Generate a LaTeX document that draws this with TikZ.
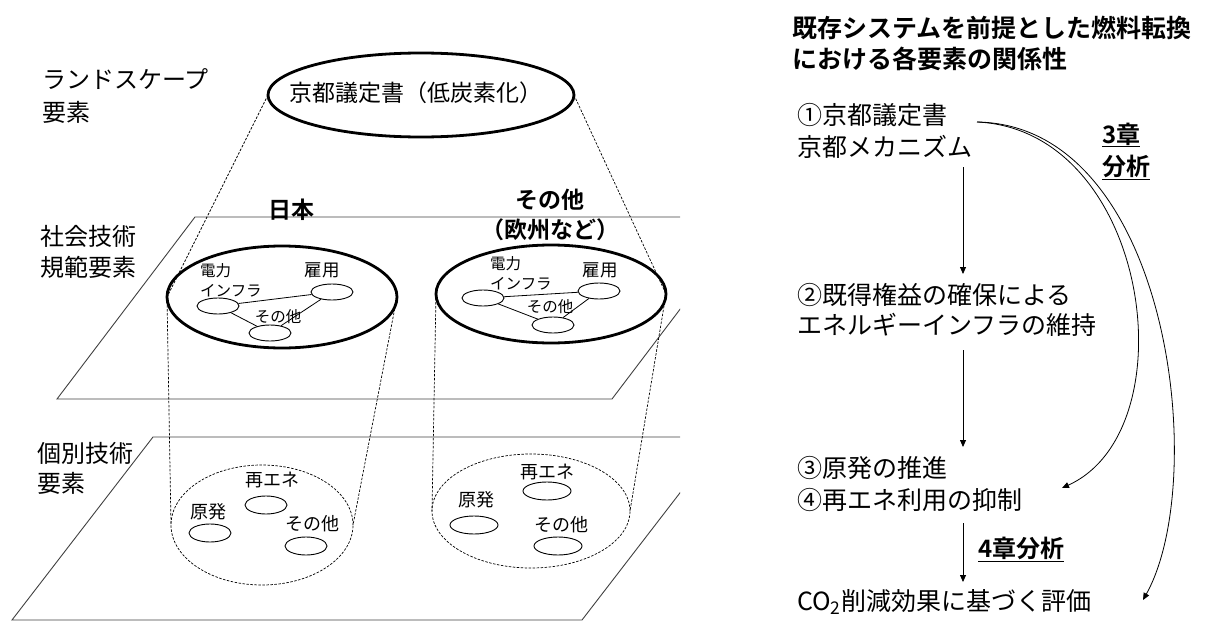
\documentclass[tikz,border=0pt]{standalone}
\usepackage{fontspec}
\setmainfont{Noto Sans CJK JP}[BoldFont={Noto Sans CJK JP Bold}]
\usetikzlibrary{shapes.geometric,arrows.meta}
\newcommand{\fsz}[2]{\fontsize{#1}{#2}\selectfont}
\begin{document}
\begin{tikzpicture}[x=1pt,y=-1pt,
  plane/.style={draw=black!75,line width=0.9pt},
  bigell/.style={ellipse,draw,line width=2.8pt,inner sep=0pt,outer sep=0pt},
  smallell/.style={ellipse,draw,line width=0.9pt,inner sep=0pt,minimum width=42pt,minimum height=16pt},
  smallellb/.style={ellipse,draw,line width=0.9pt,inner sep=0pt,minimum width=48pt,minimum height=18pt},
  dcirc/.style={ellipse,draw,dash pattern=on 2.5pt off 1.5pt,line width=0.7pt,inner sep=0pt,outer sep=0pt},
  dline/.style={dash pattern=on 2.5pt off 1.5pt,line width=0.7pt},
  lbl/.style={inner sep=0pt,align=left,anchor=west},
  txt/.style={inner sep=0pt},
  link/.style={line width=0.8pt},
  arr/.style={-{Triangle[length=7pt,width=6pt]},line width=0.8pt},
]
\useasboundingbox (0,0) rectangle (1208,621);

% planes (clipped at the right, as in the reference)
\begin{scope}
  \clip (0,0) rectangle (680,621);
  \draw[plane] (195,217) -- (750,217) -- (612,399) -- (57,399) -- cycle;
  \draw[plane] (153,437) -- (723,437) -- (582,620) -- (12,620) -- cycle;
\end{scope}

% layer labels
\node[lbl,font=\fsz{24}{33}] (lland) at (42,96) {ランドスケープ\\要素};
\node[lbl,font=\fsz{24}{31}] (lsoc) at (40,252) {社会技術\\規範要素};
\node[lbl,font=\fsz{24}{30}] (lind) at (37,468) {個別技術\\要素};

% landscape ellipse
\node[bigell,minimum width=306pt,minimum height=84pt] (top) at (421,95) {};
\node[txt,font=\fsz{23}{28}] (toptxt) at (416,93) {京都議定書（低炭素化）};

% country labels
\node[txt,font=\bfseries\fsz{23}{28}] (jptxt) at (291,210) {日本};
\node[txt,align=center,font=\bfseries\fsz{23}{30}] (ottxt) at (550,215) {その他\\（欧州など）};

% socio-technical ellipses
\node[bigell,minimum width=230pt,minimum height=102pt] (jp) at (282,297) {};
\node[bigell,minimum width=230pt,minimum height=98pt] (ot) at (551,294) {};

% lower dashed regions
\node[dcirc,minimum width=182pt,minimum height=120pt] (jl) at (262,525) {};
\node[dcirc,minimum width=198pt,minimum height=114pt] (ol) at (531,511) {};

% dashed projections
\draw[dline] (top.west) -- (jp.west);
\draw[dline] (top.east) -- (ot.east);
\draw[dline] (jp.west) -- (jl.west);
\draw[dline] (jp.east) -- (jl.east);
\draw[dline] (ot.west) -- (ol.west);
\draw[dline] (ot.east) -- (ol.east);

% Japan socio-technical inner
\node[smallell] (jpe) at (218,306) {};
\node[smallell] (jpk) at (332,292) {};
\node[smallell] (jpo) at (270,333) {};
\node[lbl,font=\fsz{15.5}{20}] (jpel) at (200,280) {電力\\インフラ};
\node[txt,font=\fsz{17.5}{20}] (jpkl) at (322,270) {雇用};
\node[txt,font=\fsz{15.5}{20}] (jpol) at (278,317) {その他};
\draw[link] (jpe) -- (jpk);
\draw[link] (jpe) -- (jpo);
\draw[link] (jpk) -- (jpo);

% Other socio-technical inner
\node[smallell] (oe) at (483,298) {};
\node[smallell] (ok) at (599,291) {};
\node[smallell] (oo) at (553,325) {};
\node[lbl,font=\fsz{15.5}{20}] (oel) at (490,273) {電力\\インフラ};
\node[txt,font=\fsz{17.5}{20}] (okl) at (600,270) {雇用};
\node[txt,font=\fsz{15.5}{20}] (ool) at (550,307) {その他};
\draw[link] (oe) -- (ok);
\draw[link] (oe) -- (oo);
\draw[link] (ok) -- (oo);

% Japan individual technologies
\node[smallell,minimum height=18pt] (jg) at (210,533) {};
\node[smallell,minimum height=18pt] (jr) at (266,505) {};
\node[smallell,minimum height=18pt] (jo2) at (306,546) {};
\node[txt,font=\fsz{18}{22}] (jgl) at (208,512) {原発};
\node[txt,font=\fsz{18}{22}] (jrl) at (272,480) {再エネ};
\node[txt,font=\fsz{18}{22}] (jo2l) at (312,524) {その他};

% Other individual technologies
\node[smallellb] (og) at (474,525) {};
\node[smallellb] (orr) at (547,491) {};
\node[smallellb] (oo2) at (558,546) {};
\node[txt,font=\fsz{18}{22}] (ogl) at (476,500) {原発};
\node[txt,font=\fsz{18}{22}] (orl) at (547,472) {再エネ};
\node[txt,font=\fsz{18}{22}] (oo2l) at (561,525) {その他};

% right side
\node[lbl,font=\bfseries\fsz{25}{31}] (title) at (792,43) {既存システムを前提とした燃料転換\\における各要素の関係性};
\node[lbl,font=\fsz{25}{32}] (n1) at (797,131) {①京都議定書\\京都メカニズム};
\node[lbl,font=\fsz{25}{30}] (n2) at (797,310) {②既得権益の確保による\\エネルギーインフラの維持};
\node[lbl,font=\fsz{25}{32}] (n3) at (797,484) {③原発の推進\\④再エネ利用の抑制};
\node[lbl,font=\fsz{25}{30}] (n4) at (797,602) {CO\textsubscript{2}削減効果に基づく評価};

\coordinate (a1s) at (963,167);
\coordinate (a1e) at (963,274);
\coordinate (a2s) at (963,350);
\coordinate (a2e) at (963,447);
\coordinate (a3s) at (963,523);
\coordinate (a3e) at (963,582);
\draw[arr] (a1s) -- (a1e);
\draw[arr] (a2s) -- (a2e);
\draw[arr] (a3s) -- (a3e);

\node[lbl,font=\bfseries\fsz{24}{30}] (ch4) at (978,549) {\underline{4章分析}};
\node[lbl,font=\bfseries\fsz{24}{32}] (ch3) at (1102,151) {\underline{3章}\\\underline{分析}};

\coordinate (cs) at (977,122);
\coordinate (ce1) at (1062,488);
\coordinate (ce2) at (1143,600);
\draw[arr] (cs) .. controls (1150,130) and (1190,430) .. (ce1);
\draw[arr] (cs) .. controls (1170,125) and (1210,480) .. (ce2);
\end{tikzpicture}
\end{document}
